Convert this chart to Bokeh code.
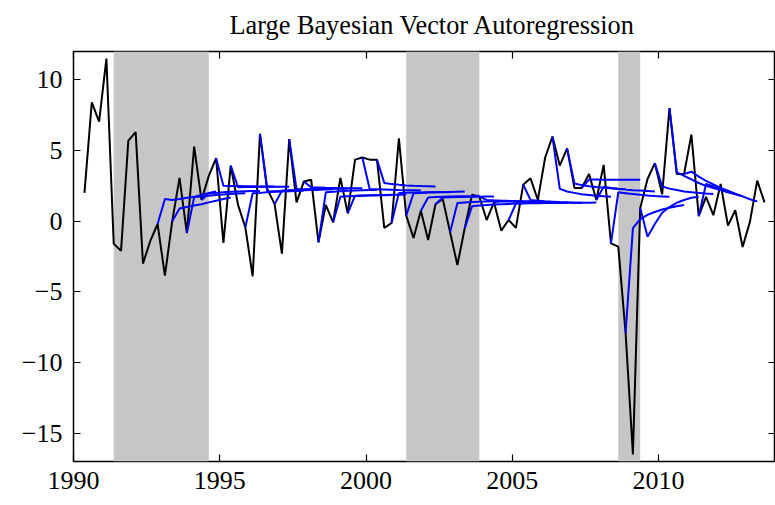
from bokeh.plotting import figure
from bokeh.models import Range1d, LinearAxis, FixedTicker, BoxAnnotation
from bokeh.embed import file_html
from bokeh.resources import INLINE

# ---------------- data ----------------
title_text = "Large Bayesian Vector Autoregression"
first_date = 1990.375          # first plotted quarter
quarter = 0.25

actual = [2.0, 8.4, 7.04, 11.5, -1.6, -2.1, 5.7, 6.3, -3.0, -1.4,
          -0.2, -3.86, 0.0, 3.06, -0.84, 5.27, 1.5, 3.2, 4.45, -1.54,
          3.93, 1.15, -0.44, -3.9, 6.17, 2.28, 1.2, -2.3, 5.8, 1.33,
          2.8, 2.93, -1.5, 1.15, -0.08, 3.06, 0.55, 4.35, 4.5, 4.35,
          4.35, -0.48, -0.13, 5.86, 0.39, -1.19, 0.74, -1.33, 1.2, 1.57,
          -0.79, -3.1, -0.5, 1.87, 1.73, 0.08, 1.33, -0.67, 0.08, -0.48,
          2.58, 3.03, 1.5, 4.5, 5.98, 3.93, 5.15, 2.35, 2.35, 3.34,
          1.5, 3.98, -1.57, -1.8, -7.9, -16.5, 0.93, 2.98, 4.1, 1.9,
          8.0, 3.33, 3.34, 6.13, 0.36, 1.72, 0.42, 2.63, -0.32, 0.77,
          -1.83, -0.05, 2.87, 1.33]

# forecast origins (index into actual) and the 8 forecast quarters that follow
forecast_origin = [10, 12, 14, 16, 18, 20, 22, 24, 26, 28,
                   30, 32, 34, 36, 38, 40, 42, 44, 46, 48,
                   50, 52, 54, 56, 58, 60, 62, 64, 66, 68,
                   70, 72, 74, 76, 78, 80, 82, 84]
forecast_values = [
    [1.57, 1.5, 1.57, 1.65, 1.73, 1.85, 2.0, 2.1],
    [0.9, 1.0, 1.1, 1.2, 1.33, 1.45, 1.57, 1.68],
    [1.7, 1.75, 1.8, 1.85, 1.88, 1.92, 1.95, 1.97],
    [1.95, 2.0, 2.05, 2.08, 2.1, 2.12, 2.13, 2.14],
    [2.5, 2.49, 2.48, 2.47, 2.47, 2.46, 2.46, 2.46],
    [2.4, 2.41, 2.42, 2.43, 2.43, 2.44, 2.44, 2.44],
    [1.97, 2.0, 2.05, 2.08, 2.1, 2.12, 2.14, 2.16],
    [2.1, 2.12, 2.14, 2.16, 2.18, 2.19, 2.2, 2.2],
    [2.16, 2.18, 2.2, 2.21, 2.22, 2.23, 2.24, 2.25],
    [2.25, 2.26, 2.27, 2.28, 2.28, 2.29, 2.29, 2.3],
    [2.4, 2.38, 2.36, 2.35, 2.34, 2.33, 2.33, 2.32],
    [2.04, 2.08, 2.12, 2.15, 2.17, 2.19, 2.2, 2.2],
    [1.73, 1.76, 1.78, 1.8, 1.82, 1.83, 1.84, 1.85],
    [1.8, 1.82, 1.83, 1.84, 1.85, 1.86, 1.87, 1.88],
    [2.28, 2.26, 2.24, 2.22, 2.2, 2.19, 2.18, 2.16],
    [2.7, 2.62, 2.57, 2.53, 2.5, 2.48, 2.47, 2.46],
    [2.0, 2.01, 2.02, 2.03, 2.04, 2.05, 2.05, 2.05],
    [1.97, 2.0, 2.02, 2.04, 2.06, 2.07, 2.08, 2.09],
    [1.68, 1.7, 1.72, 1.74, 1.76, 1.77, 1.78, 1.8],
    [1.68, 1.69, 1.7, 1.71, 1.72, 1.73, 1.74, 1.75],
    [1.29, 1.32, 1.35, 1.37, 1.39, 1.41, 1.43, 1.45],
    [1.05, 1.1, 1.14, 1.17, 1.2, 1.22, 1.24, 1.26],
    [1.5, 1.47, 1.45, 1.43, 1.42, 1.41, 1.4, 1.4],
    [1.4, 1.39, 1.38, 1.37, 1.36, 1.36, 1.35, 1.35],
    [1.24, 1.25, 1.26, 1.27, 1.28, 1.29, 1.29, 1.3],
    [1.5, 1.45, 1.41, 1.38, 1.35, 1.33, 1.31, 1.3],
    [1.28, 1.29, 1.3, 1.3, 1.31, 1.31, 1.31, 1.32],
    [2.28, 2.1, 2.0, 1.9, 1.85, 1.8, 1.76, 1.73],
    [2.67, 2.55, 2.47, 2.41, 2.36, 2.33, 2.3, 2.28],
    [2.94, 2.94, 2.93, 2.93, 2.93, 2.92, 2.92, 2.92],
    [2.44, 2.35, 2.28, 2.23, 2.19, 2.16, 2.13, 2.1],
    [2.04, 1.98, 1.92, 1.87, 1.82, 1.78, 1.75, 1.72],
    [-0.5, 0.15, 0.45, 0.65, 0.82, 0.95, 1.05, 1.15],
    [-1.1, -0.2, 0.6, 1.0, 1.3, 1.5, 1.65, 1.73],
    [2.46, 2.3, 2.2, 2.1, 2.05, 2.0, 1.95, 1.92],
    [3.45, 3.2, 2.95, 2.7, 2.5, 2.35, 2.2, 2.05],
    [3.5, 3.15, 2.85, 2.6, 2.35, 2.15, 1.95, 1.75],
    [2.63, 2.45, 2.25, 2.05, 1.9, 1.75, 1.55, 1.4],
]

recession_start = [1991.375, 2001.375, 2008.625]
recession_end = [1994.625, 2003.875, 2009.375]

x_ticks = [1990, 1995, 2000, 2005, 2010]
y_ticks = [-15, -10, -5, 0, 5, 10]
x_limits = (1990, 2014)
y_limits = (-17, 12)

# ---------------- build ----------------
dates = [first_date + quarter * i for i in range(len(actual))]

fx, fy = [], []
for k, vals in zip(forecast_origin, forecast_values):
    fx.append(dates[k:k + len(vals) + 1])
    fy.append([actual[k]] + vals)

FONT = "Liberation Serif"

p = figure(width=775, height=497,
           x_range=Range1d(*x_limits), y_range=Range1d(*y_limits),
           output_backend="svg", toolbar_location=None,
           min_border_left=73, min_border_right=0,
           min_border_top=51, min_border_bottom=36)

p.background_fill_color = "white"
p.border_fill_color = "white"
p.outline_line_color = "black"
p.outline_line_width = 1.5
p.outline_line_alpha = 1.0
p.xgrid.visible = False
p.ygrid.visible = False

p.title.text = title_text
p.title.align = "left"
p.title.offset = 156
p.title.vertical_align = "top"
p.title.standoff = 19
p.title.text_font = FONT
p.title.text_font_size = "26.3px"
p.title.text_font_style = "normal"
p.title.text_color = "black"

for s, e in zip(recession_start, recession_end):
    p.add_layout(BoxAnnotation(left=s, right=e, fill_color="#c6c6c6", fill_alpha=1.0,
                               line_color=None, level="underlay"))

p.line(dates, actual, line_color="black", line_width=2.0)
p.multi_line(fx, fy, line_color="#0000ff", line_width=2.0)

minus_y = {v: str(v).replace("-", "\u2212") for v in y_ticks}


def style(ax, ticks, show_labels, standoff=0, overrides=None):
    ax.ticker = FixedTicker(ticks=ticks)
    ax.major_tick_in = 7
    ax.major_tick_out = 0
    ax.minor_tick_line_color = None
    ax.axis_line_color = None
    ax.major_tick_line_color = "black"
    ax.major_tick_line_width = 1.2
    ax.major_label_text_font = FONT
    if show_labels:
        ax.major_label_text_color = "black"
        ax.major_label_text_font_size = "26px"
        ax.major_label_standoff = standoff
        if overrides:
            ax.major_label_overrides = overrides
    else:
        ax.major_label_text_color = None
        ax.major_label_text_font_size = "1px"
        ax.major_label_standoff = 0


style(p.xaxis[0], x_ticks, True, standoff=10)
style(p.yaxis[0], y_ticks, True, standoff=11, overrides=minus_y)

top_axis = LinearAxis()
right_axis = LinearAxis()
p.add_layout(top_axis, "above")
p.add_layout(right_axis, "right")
style(top_axis, x_ticks, False)
style(right_axis, y_ticks, False)

open("out.html", "w").write(file_html(p, INLINE))
